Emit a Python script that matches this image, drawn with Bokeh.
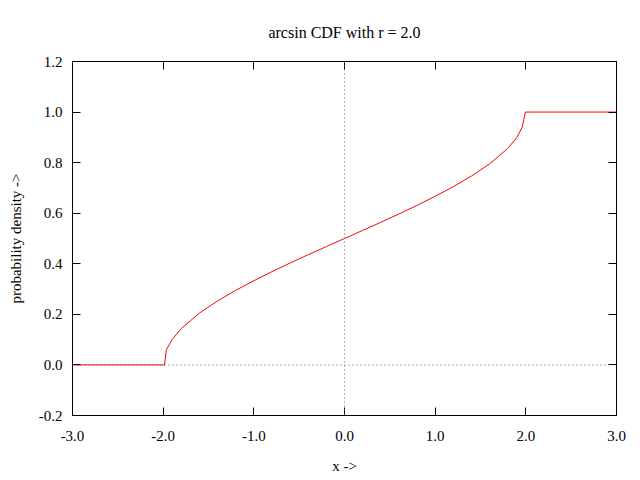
from bokeh.plotting import figure
from bokeh.models import Span, LinearAxis, FixedTicker, NumeralTickFormatter, Range1d
from bokeh.embed import file_html
from bokeh.resources import INLINE

# values
x_vals = [-3.0, -1.985, -1.965, -1.9, -1.8, -1.6, -1.4, -1.2, -1.0, -0.8, -0.6, -0.4, -0.2,
          0.0, 0.2, 0.4, 0.6, 0.8, 1.0, 1.2, 1.4, 1.6, 1.8, 1.9, 1.96, 1.995, 3.0]
cdf_vals = [0.0, 0.0, 0.06, 0.101, 0.144, 0.205, 0.253, 0.295, 0.333, 0.369, 0.403, 0.436, 0.468,
            0.5, 0.532, 0.564, 0.597, 0.631, 0.667, 0.705, 0.747, 0.795, 0.856, 0.899, 0.94, 1.0, 1.0]
x_ticks = [-3.0, -2.0, -1.0, 0.0, 1.0, 2.0, 3.0]
y_ticks = [-0.2, 0.0, 0.2, 0.4, 0.6, 0.8, 1.0, 1.2]

FONT = "Liberation Serif"
FS = "15px"

p = figure(width=640, height=480, output_backend="svg", toolbar_location=None,
           x_range=Range1d(-3, 3), y_range=Range1d(-0.2, 1.2),
           min_border_left=72, min_border_right=24, min_border_top=61, min_border_bottom=65,
           title="arcsin CDF with r = 2.0")
p.title.align = "center"
p.title.text_font = FONT
p.title.text_font_size = "16px"
p.title.text_font_style = "normal"
p.title.text_color = "black"
p.title.standoff = 41

p.xgrid.visible = False
p.ygrid.visible = False
p.outline_line_color = "black"
p.outline_line_width = 1
p.background_fill_color = "white"
p.border_fill_color = "white"

def style(ax):
    ax.major_tick_in = 8
    ax.major_tick_out = 0
    ax.minor_tick_in = 0
    ax.minor_tick_out = 0
    ax.major_tick_line_color = "black"
    ax.axis_line_color = "black"
    ax.major_label_text_font = FONT
    ax.major_label_text_font_size = FS
    ax.major_label_text_color = "black"
    ax.axis_label_text_font = FONT
    ax.axis_label_text_font_size = FS
    ax.axis_label_text_font_style = "normal"
    ax.axis_label_text_color = "black"
    ax.formatter = NumeralTickFormatter(format="0.0")

xa = p.xaxis[0]
ya = p.yaxis[0]
style(xa)
style(ya)
xa.ticker = FixedTicker(ticks=x_ticks)
ya.ticker = FixedTicker(ticks=y_ticks)
xa.axis_label = "x ->"
ya.axis_label = "probability density ->"
xa.major_label_standoff = 15
xa.axis_label_standoff = 14
ya.major_label_standoff = 10
ya.axis_label_standoff = 12

top = LinearAxis(ticker=FixedTicker(ticks=x_ticks))
right = LinearAxis(ticker=FixedTicker(ticks=y_ticks))
style(top)
style(right)
top.major_label_overrides = {t: "" for t in x_ticks}
right.major_label_overrides = {t: "" for t in y_ticks}
top.major_label_standoff = 0
right.major_label_standoff = 0
p.add_layout(top, "above")
p.add_layout(right, "right")

p.add_layout(Span(location=0, dimension="width", line_color="#666666", line_dash="1 3", line_width=1))
p.add_layout(Span(location=0, dimension="height", line_color="#666666", line_dash="1 3", line_width=1))

p.line(x_vals, cdf_vals, line_color="red", line_width=1)

open("out.html", "w").write(file_html(p, INLINE))
